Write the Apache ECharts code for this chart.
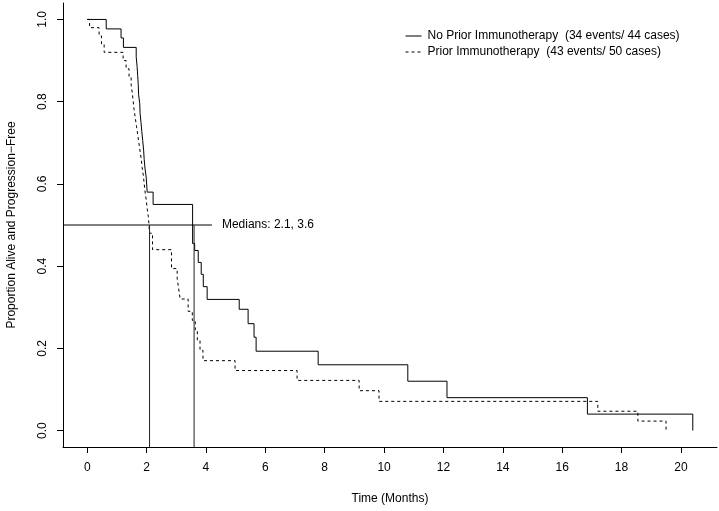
<!DOCTYPE html>
<html>
<head>
<meta charset="utf-8">
<script src="https://cdn.jsdelivr.net/npm/echarts@6/dist/echarts.min.js"></script>
<style>
html,body{margin:0;padding:0;background:#fff;}
#chart{width:719px;height:511px;}
</style>
</head>
<body>
<div id="chart"></div>
<script>
// ---- data ----
const seriesNames = [
  'No Prior Immunotherapy  (34 events/ 44 cases)',
  'Prior Immunotherapy  (43 events/ 50 cases)'
];
const timesNoPrior = [0, 0.64, 1.14, 1.22, 1.65, 1.68, 1.70, 1.72, 1.73, 1.77, 1.78, 1.81, 1.84, 1.87, 1.90, 1.92, 1.95, 1.99, 2.02, 2.22, 3.55, 3.62, 3.74, 3.84, 3.91, 4.04, 5.12, 5.42, 5.62, 5.69, 7.78, 10.8, 12.12, 16.85, 20.4];
const survNoPrior  = [1, 0.977, 0.955, 0.932, 0.909, 0.886, 0.864, 0.841, 0.818, 0.795, 0.773, 0.750, 0.727, 0.705, 0.682, 0.659, 0.636, 0.614, 0.58, 0.55, 0.455, 0.438, 0.409, 0.38, 0.35, 0.319, 0.295, 0.26, 0.227, 0.193, 0.16, 0.12, 0.08, 0.04, 0];
const timesPrior = [0, 0.08, 0.40, 0.48, 0.57, 1.21, 1.31, 1.41, 1.48, 1.52, 1.55, 1.58, 1.62, 1.66, 1.70, 1.74, 1.78, 1.82, 1.85, 1.89, 1.92, 1.95, 1.99, 2.02, 2.06, 2.10, 2.20, 2.84, 3.03, 3.08, 3.13, 3.40, 3.54, 3.64, 3.71, 3.80, 3.90, 4.98, 7.07, 9.16, 9.83, 17.2, 18.55, 19.5];
const survPrior  = [1, 0.98, 0.96, 0.94, 0.92, 0.90, 0.88, 0.86, 0.84, 0.82, 0.80, 0.78, 0.76, 0.74, 0.72, 0.70, 0.68, 0.66, 0.64, 0.62, 0.60, 0.58, 0.56, 0.54, 0.52, 0.48, 0.44, 0.394, 0.37, 0.345, 0.32, 0.29, 0.268, 0.245, 0.22, 0.195, 0.17, 0.146, 0.122, 0.097, 0.071, 0.047, 0.023, 0];
const medians = [2.1, 3.6];
const medianLevel = 0.5;
const medianLineEnd = 4.2;
const medianText = 'Medians: 2.1, 3.6';
const xTicks = [0, 2, 4, 6, 8, 10, 12, 14, 16, 18, 20];
const yTicks = [0, 0.2, 0.4, 0.6, 0.8, 1.0];
const xLim = [-0.816, 21.216];
const yLim = [-0.04, 1.04];
const xTitle = 'Time (Months)';
const yTitle = 'Proportion Alive and Progression\u2212Free';

// ---- chart ----
const font = "'Liberation Sans', Arial, Helvetica, sans-serif";
const zip = (a, b) => a.map((v, i) => [v, b[i]]);

const medianSeries = [{
  type: 'line', name: 'medianH', data: [[xLim[0], medianLevel], [medianLineEnd, medianLevel]],
  symbol: 'none', silent: true, lineStyle: {color: '#000', width: 1},
  endLabel: {show: true, formatter: medianText, color: '#000', fontFamily: font, fontSize: 12, distance: 10}
}].concat(medians.map((m, i) => ({
  type: 'line', name: 'medianV' + i, data: [[m, medianLevel], [m, yLim[0]]],
  symbol: 'none', silent: true, lineStyle: {color: '#222', width: 1}
})));

const chart = echarts.init(document.getElementById('chart'), null, {renderer: 'canvas'});
chart.setOption({
  animation: false,
  backgroundColor: '#fff',
  textStyle: {fontFamily: font},
  grid: {left: 63, right: 2, top: 3, bottom: 64, outerBoundsMode: 'none'},
  legend: {
    data: seriesNames, orient: 'vertical', left: 400, top: 25,
    itemWidth: 16, itemHeight: 10, itemGap: 4,
    itemStyle: {opacity: 0},
    lineStyle: {width: 1},
    textStyle: {fontFamily: font, fontSize: 12, color: '#000', padding: [0, 0, 0, 1]},
    selectedMode: false
  },
  xAxis: {
    type: 'value', min: xLim[0], max: xLim[1],
    name: xTitle, nameLocation: 'middle', nameGap: 46,
    nameTextStyle: {fontFamily: font, fontSize: 12, color: '#000'},
    axisLine: {show: true, onZero: false, lineStyle: {color: '#000', width: 1}},
    axisTick: {show: true, length: 6, customValues: xTicks, lineStyle: {color: '#000'}},
    axisLabel: {customValues: xTicks, margin: 15, fontFamily: font, fontSize: 12, color: '#000', formatter: v => String(v)},
    splitLine: {show: false}
  },
  yAxis: {
    type: 'value', min: yLim[0], max: yLim[1],
    name: yTitle, nameLocation: 'middle', nameGap: 45, nameRotate: 90,
    nameTextStyle: {fontFamily: font, fontSize: 12, color: '#000'},
    axisLine: {show: true, onZero: false, lineStyle: {color: '#000', width: 1}},
    axisTick: {show: true, length: 6, customValues: yTicks, lineStyle: {color: '#000'}},
    axisLabel: {customValues: yTicks, rotate: 90, margin: 14, fontFamily: font, fontSize: 12, color: '#000', formatter: v => v.toFixed(1)},
    splitLine: {show: false}
  },
  series: [{
    type: 'line', name: seriesNames[0], data: zip(timesNoPrior, survNoPrior), step: 'end',
    symbol: 'none', lineStyle: {color: '#000', width: 1, type: 'solid'}, itemStyle: {color: '#000'}
  }, {
    type: 'line', name: seriesNames[1], data: zip(timesPrior, survPrior), step: 'end',
    symbol: 'none', lineStyle: {color: '#000', width: 1, type: [3, 3]}, itemStyle: {color: '#000'}
  }].concat(medianSeries)
});
</script>
</body>
</html>
